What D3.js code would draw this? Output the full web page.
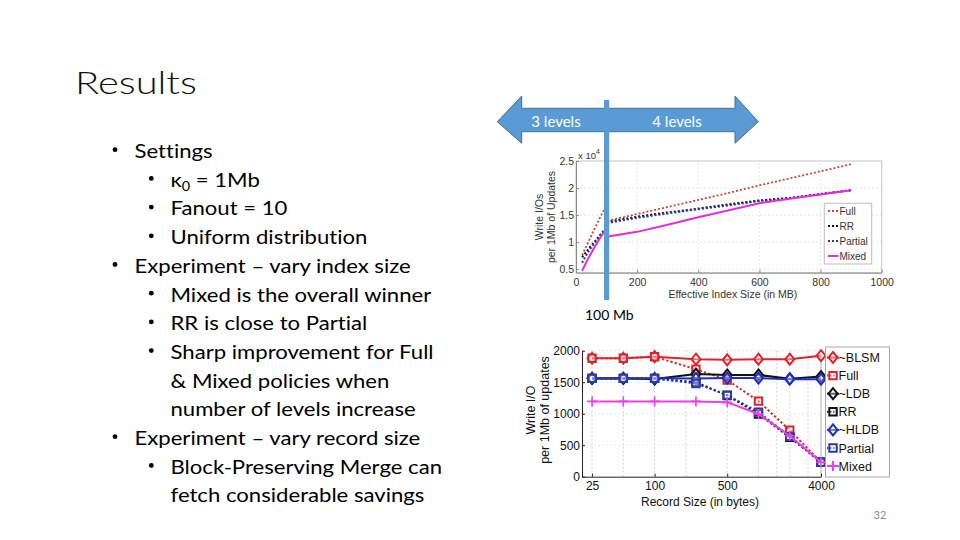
<!DOCTYPE html>
<html><head><meta charset="utf-8">
<script src="https://cdn.jsdelivr.net/npm/d3@7"></script>
<style>body{margin:0;background:#fff}svg{display:block}text{font-variant-ligatures:none}</style>
</head><body>
<svg id="s" width="960" height="540"></svg>
<script>
// ---------------- DATA ----------------
const slideTitle = "Results";
const bodyText = [
  "Settings", "κ_0 = 1Mb", "Fanout = 10", "Uniform distribution",
  "Experiment – vary index size", "Mixed is the overall winner", "RR is close to Partial",
  "Sharp improvement for Full", "& Mixed policies when", "number of levels increase",
  "Experiment – vary record size", "Block-Preserving Merge can", "fetch considerable savings"
];
const bodyLevel = [1,2,2,2,1,2,2,2,2,2,1,2,2];
const bodyBullet = [1,1,1,1,1,1,1,1,0,0,1,1,0];
const arrowLabels = ["3 levels", "4 levels"];
const markerLabel = "100 Mb";
const pageNumber = "32";

// Top chart: effective index size (MB) vs write I/Os (x10^4)
const indexSizeMB = [20, 40, 60, 80, 100, 100, 200, 300, 400, 500, 600, 700, 800, 900];
const fullIdx    = [0.76, 1.00, 1.24, 1.47, 1.68, 1.39, 1.52, 1.65, 1.78, 1.91, 2.05, 2.18, 2.31, 2.44];
const rrIdx      = [0.72, 0.87, 1.00, 1.14, 1.27, 1.37, 1.47, 1.55, 1.62, 1.70, 1.77, 1.82, 1.89, 1.96];
const partialIdx = [0.62, 0.82, 0.98, 1.12, 1.26, 1.35, 1.45, 1.53, 1.61, 1.68, 1.76, 1.81, 1.89, 1.96];
const mixedIdx   = [0.47, 0.70, 0.90, 1.09, 1.26, 1.10, 1.19, 1.32, 1.46, 1.59, 1.72, 1.80, 1.88, 1.96];
const topSeriesNames = ["Full", "RR", "Partial", "Mixed"];
const topXTicks = [0, 200, 400, 600, 800, 1000];
const topYTicks = [0.5, 1, 1.5, 2, 2.5];
const topXLabel = "Effective Index Size (in MB)";
const topYLabel = ["Write I/Os", "per 1Mb of Updates"];

// Bottom chart: record size (bytes) vs write I/O per 1Mb of updates
const recordSize   = [25, 50, 100, 250, 500, 1000, 2000, 4000];
const blsmRec      = [1880, 1880, 1905, 1865, 1855, 1865, 1865, 1920];
const fullRec      = [1880, 1880, 1905, 1705, 1535, 1200, 740, 230];
const ldbRec       = [1560, 1560, 1550, 1630, 1615, 1615, 1555, 1590];
const rrRec        = [1560, 1560, 1560, 1500, 1290, 995, 625, 230];
const hldbRec      = [1562, 1562, 1562, 1560, 1565, 1565, 1548, 1548];
const partialRec   = [1560, 1560, 1560, 1480, 1295, 1025, 640, 230];
const mixedRec     = [1195, 1195, 1195, 1195, 1180, 995, 650, 230];
const botSeriesNames = ["~BLSM", "Full", "~LDB", "RR", "~HLDB", "Partial", "Mixed"];
const botXTicks = [25, 100, 500, 4000];
const botXGrid = [25, 50, 100, 200, 500, 1000, 1500, 2000, 3000, 4000];
const botYTicks = [0, 500, 1000, 1500, 2000];
const botXLabel = "Record Size (in bytes)";
const botYLabel = ["Write I/O", "per 1Mb of updates"];

// ---------------- DRAW ----------------
const svg = d3.select("#s");
const SANS = "'Liberation Sans', Arial, Helvetica, sans-serif";
const BODY = "Lato, 'Open Sans', sans-serif";

// Title
const title = svg.append("text").text(slideTitle)
  .attr("font-family", BODY).attr("font-weight", 300).attr("font-size", 32).attr("fill", "#111");
{
  const w = title.node().getComputedTextLength();
  title.attr("transform", `translate(75,93.5) scale(${122 / w},1)`);
}

// Body bullets
const bodyG = svg.append("g");
const bodyNodes = bodyG.selectAll("text").data(bodyText).join("text")
  .attr("font-family", BODY).attr("font-size", 20).attr("fill", "#000")
  .each(function(d) {
    const t = d3.select(this);
    if (d.includes("_")) {
      const [a, rest] = d.split("_");
      t.append("tspan").text(a);
      t.append("tspan").text(rest[0]).attr("font-size", 13).attr("dy", 4.5);
      t.append("tspan").text(rest.slice(1)).attr("dy", -4.5);
    } else t.text(d);
  });
const refW = bodyNodes.nodes()[5].getComputedTextLength();
const kx = 261 / refW;
bodyNodes.attr("transform", (d, i) =>
  `translate(${bodyLevel[i] === 1 ? 134.5 : 170.5},${158 + i * 28.7}) scale(${kx},1)`);
bodyG.selectAll("circle").data(bodyText.map((d, i) => i).filter(i => bodyBullet[i]))
  .join("circle")
  .attr("cx", i => bodyLevel[i] === 1 ? 115 : 151.3)
  .attr("cy", i => 158 + i * 28.7 - 8.3)
  .attr("r", 2.4).attr("fill", "#000");

// ---------- Top chart ----------
const xT = d3.scaleLinear().domain([0, 1000]).range([576, 881.7]);
const yT = d3.scaleLinear().domain([0.435, 2.5]).range([272.7, 161]);
const topG = svg.append("g");
topG.append("g").selectAll("line").data(topXTicks.slice(1, -1)).join("line")
  .attr("x1", d => xT(d)).attr("x2", d => xT(d)).attr("y1", yT.range()[0]).attr("y2", yT.range()[1])
  .attr("stroke", "#d8d8d8").attr("stroke-width", 0.8).attr("stroke-dasharray", "1.5,2.5");
topG.append("g").selectAll("line").data(topYTicks.slice(0, -1)).join("line")
  .attr("y1", d => yT(d)).attr("y2", d => yT(d)).attr("x1", xT.range()[0]).attr("x2", xT.range()[1])
  .attr("stroke", "#d8d8d8").attr("stroke-width", 0.8).attr("stroke-dasharray", "1.5,2.5");
topG.append("rect").attr("x", xT.range()[0]).attr("y", yT.range()[1])
  .attr("width", xT.range()[1] - xT.range()[0]).attr("height", yT.range()[0] - yT.range()[1])
  .attr("fill", "none").attr("stroke", "#c4c4c4").attr("stroke-width", 1);
const axTX = topG.append("g").attr("transform", `translate(0,${yT.range()[0]})`)
  .call(d3.axisBottom(xT).tickValues(topXTicks).tickSizeInner(-3).tickSizeOuter(0).tickPadding(6).tickFormat(d3.format("d")));
const axTY = topG.append("g").attr("transform", `translate(${xT.range()[0]},0)`)
  .call(d3.axisLeft(yT).tickValues(topYTicks).tickSizeInner(-3).tickSizeOuter(0).tickPadding(2).tickFormat(d => d3.format("~g")(d)));
[axTX, axTY].forEach(a => {
  a.select(".domain").attr("stroke", "#8a8a8a");
  a.selectAll(".tick line").attr("stroke", "#8a8a8a");
  a.selectAll("text").attr("font-family", SANS).attr("font-size", 10.5).attr("fill", "#333");
});
const expT = topG.append("text").attr("x", 578).attr("y", 159).attr("font-family", SANS)
  .attr("font-size", 9.5).attr("fill", "#333");
expT.append("tspan").text("x 10");
expT.append("tspan").text("4").attr("font-size", 7).attr("dy", -5);
topG.append("text").attr("x", (xT.range()[0] + xT.range()[1]) / 2 + 4).attr("y", 298)
  .attr("text-anchor", "middle").attr("font-family", SANS).attr("font-size", 10.5).attr("fill", "#333")
  .text(topXLabel);
topYLabel.forEach((t, i) => topG.append("text")
  .attr("transform", `translate(${543 + i * 12},217) rotate(-90)`)
  .attr("text-anchor", "middle").attr("font-family", SANS).attr("font-size", 10.5).attr("fill", "#333").text(t));
const topSeries = [
  { vals: fullIdx, color: "#d9403f", dash: "2,2", w: 1.8 },
  { vals: rrIdx, color: "#111", dash: "2,2", w: 2 },
  { vals: partialIdx, color: "#2b3aa8", dash: "2,2", w: 2 },
  { vals: mixedIdx, color: "#e22de0", dash: null, w: 2 }
];
const lineT = d3.line().x((d, i) => xT(indexSizeMB[i])).y(d => yT(d));
topG.append("g").selectAll("path").data(topSeries).join("path")
  .attr("d", d => lineT(d.vals)).attr("fill", "none").attr("stroke", d => d.color)
  .attr("stroke-width", d => d.w).attr("stroke-dasharray", d => d.dash);
const tl = topG.append("g");
tl.append("rect").attr("x", 824.3).attr("y", 203.3).attr("width", 47.4).attr("height", 60.7)
  .attr("fill", "#fff").attr("stroke", "#bdbdbd");
topSeries.forEach((s, i) => {
  const y = 211 + i * 15;
  tl.append("line").attr("x1", 828).attr("x2", 838.5).attr("y1", y).attr("y2", y)
    .attr("stroke", s.color).attr("stroke-width", s.w).attr("stroke-dasharray", s.dash);
  tl.append("text").attr("x", 839.5).attr("y", y + 3.7).attr("font-family", SANS).attr("font-size", 10)
    .attr("fill", "#333").text(topSeriesNames[i]);
});

// ---------- Bottom chart ----------
const xB = d3.scaleLog().domain([20, 4000]).range([582, 821]);
const yB = d3.scaleLinear().domain([0, 2000]).range([476.7, 350.7]);
const botG = svg.append("g");
botG.append("g").selectAll("line").data(botXGrid).join("line")
  .attr("x1", d => xB(d)).attr("x2", d => xB(d)).attr("y1", yB(0)).attr("y2", yB(2000))
  .attr("stroke", "#c8c8c8").attr("stroke-width", 0.8).attr("stroke-dasharray", "2,2");
botG.append("g").selectAll("line").data(botYTicks.slice(1)).join("line")
  .attr("y1", d => yB(d)).attr("y2", d => yB(d)).attr("x1", xB.range()[0]).attr("x2", xB.range()[1])
  .attr("stroke", "#e0e0e0").attr("stroke-width", 0.8).attr("stroke-dasharray", "2,2");
botG.append("line").attr("x1", xB.range()[1]).attr("x2", xB.range()[1]).attr("y1", yB(0)).attr("y2", yB(2000))
  .attr("stroke", "#bbb");
const axBX = botG.append("g").attr("transform", `translate(0,${yB(0)})`)
  .call(d3.axisBottom(xB).tickValues(botXTicks).tickSizeInner(-3).tickSizeOuter(0).tickPadding(5).tickFormat(d3.format("d")));
const axBY = botG.append("g").attr("transform", `translate(${xB.range()[0]},0)`)
  .call(d3.axisLeft(yB).tickValues(botYTicks).tickSizeInner(-3).tickSizeOuter(0).tickPadding(2).tickFormat(d3.format("d")));
[axBX, axBY].forEach(a => {
  a.select(".domain").attr("stroke", "#222");
  a.selectAll(".tick line").attr("stroke", "#222");
  a.selectAll("text").attr("font-family", SANS).attr("font-size", 12).attr("fill", "#111");
});
botG.append("text").attr("x", 700).attr("y", 506).attr("text-anchor", "middle")
  .attr("font-family", SANS).attr("font-size", 12).attr("fill", "#111").text(botXLabel);
botYLabel.forEach((t, i) => botG.append("text")
  .attr("transform", `translate(${535 + i * 14},410) rotate(-90)`)
  .attr("text-anchor", "middle").attr("font-family", SANS).attr("font-size", 12.5).attr("fill", "#111").text(t));

const RED = "#e0232a", BLK = "#111", BLU = "#1f2dc8", BLU2 = "#2a3aa8", MAG = "#f03cf0";
const botSeries = [
  { vals: blsmRec, color: RED, dash: null, mk: "diamond" },
  { vals: fullRec, color: RED, dash: "2.2,2.2", mk: "square" },
  { vals: ldbRec, color: BLK, dash: null, mk: "diamond" },
  { vals: rrRec, color: BLK, dash: "2.2,2.2", mk: "square" },
  { vals: hldbRec, color: BLU, dash: null, mk: "diamond" },
  { vals: partialRec, color: BLU2, dash: "2.2,2.2", mk: "square" },
  { vals: mixedRec, color: MAG, dash: null, mk: "plus" }
];
const markerPath = {
  diamond: "M0,-5.5L4.5,0L0,5.5L-4.5,0Z",
  square: "M-3.7,-3.7H3.7V3.7H-3.7Z",
  plus: "M-5,0H5M0,-5V5"
};
const lineB = d3.line().x((d, i) => xB(recordSize[i])).y(d => yB(d));
botSeries.forEach(s => {
  const g = botG.append("g");
  g.append("path").attr("d", lineB(s.vals)).attr("fill", "none").attr("stroke", s.color)
    .attr("stroke-width", 2).attr("stroke-dasharray", s.dash);
  g.selectAll("path.m").data(s.vals).join("path").attr("class", "m")
    .attr("transform", (d, i) => `translate(${xB(recordSize[i])},${yB(d)})`)
    .attr("d", markerPath[s.mk]).attr("fill", s.mk === "plus" ? "none" : "rgba(255,255,255,0.35)")
    .attr("stroke", s.color).attr("stroke-width", s.mk === "plus" ? 1.6 : 2);
});
const bl = botG.append("g");
bl.append("rect").attr("x", 825.5).attr("y", 347).attr("width", 64).attr("height", 130)
  .attr("fill", "#fff").attr("stroke", "#a8a8a8");
botSeries.forEach((s, i) => {
  const y = 357.5 + i * 18.1;
  bl.append("line").attr("x1", 827).attr("x2", 839).attr("y1", y).attr("y2", y)
    .attr("stroke", s.color).attr("stroke-width", 2).attr("stroke-dasharray", s.dash ? "1.5,1.5" : null);
  bl.append("path").attr("transform", `translate(833,${y})`).attr("d", markerPath[s.mk])
    .attr("fill", s.mk === "plus" ? "none" : "rgba(255,255,255,0.35)").attr("stroke", s.color).attr("stroke-width", 2);
  bl.append("text").attr("x", 838.5).attr("y", y + 4.5).attr("font-family", SANS).attr("font-size", 12.5)
    .attr("fill", "#111").text(botSeriesNames[i]);
});

// ---------- Arrow & marker bar ----------
const arrowPts = [[497.3,121.7],[521.7,96],[521.7,108.3],[735,108.3],[735,96],[758.3,121.7],
  [735,143.3],[735,131.7],[521.7,131.7],[521.7,143.3]];
svg.append("path").attr("d", "M" + arrowPts.map(p => p.join(",")).join("L") + "Z")
  .attr("fill", "#5b9bd5").attr("stroke", "#41719c").attr("stroke-width", 1);
arrowLabels.forEach((t, i) => svg.append("text").attr("x", i ? 677 : 556).attr("y", 126.5)
  .attr("text-anchor", "middle").attr("font-family", BODY).attr("font-size", 15).attr("fill", "#fff").text(t));
svg.append("rect").attr("x", 604).attr("y", 100).attr("width", 5.2).attr("height", 200).attr("fill", "#5b9bd5");
svg.append("text").attr("x", 585).attr("y", 320).attr("font-family", BODY).attr("font-size", 14)
  .attr("fill", "#000").text(markerLabel);
svg.append("text").attr("x", 880).attr("y", 519).attr("text-anchor", "middle").attr("font-family", BODY)
  .attr("font-size", 11).attr("fill", "#8c8c8c").text(pageNumber);
</script>
</body></html>
